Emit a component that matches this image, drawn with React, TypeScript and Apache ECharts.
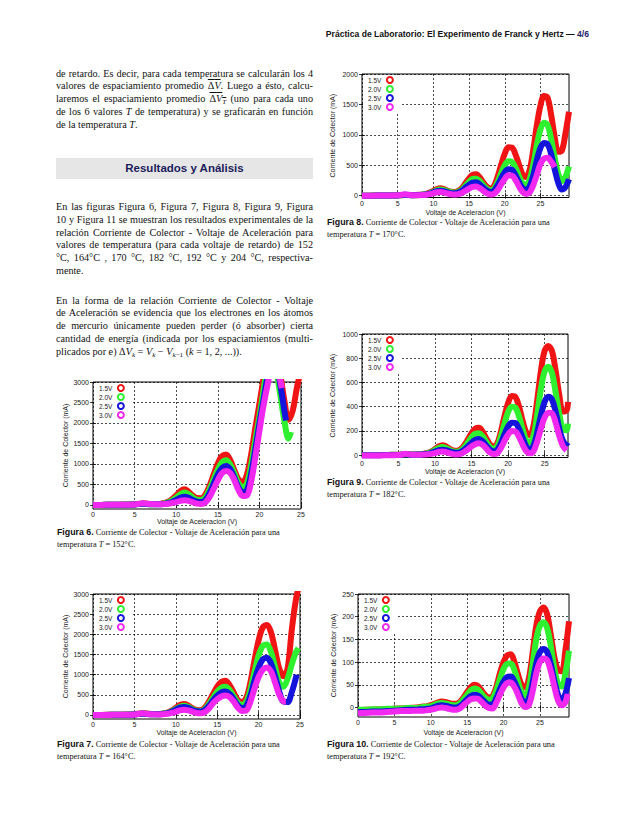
import React, { useEffect, useRef } from "react";
import * as echarts from "echarts";

// ---------------- data ----------------
const SERIES_NAMES = ["1.5V", "2.0V", "2.5V", "3.0V"];
const SERIES_COLORS = ["#f01414", "#2ef02e", "#1414dc", "#f028f0"];
const X_TICKS = [0, 5, 10, 15, 20, 25];
const Y_TICKS_3000 = [0, 500, 1000, 1500, 2000, 2500, 3000];
const Y_TICKS_2000 = [0, 500, 1000, 1500, 2000];
const Y_TICKS_1000 = [0, 200, 400, 600, 800, 1000];
const Y_TICKS_250 = [0, 50, 100, 150, 200, 250];

type Pt = [number, number];

// Figura 6, T = 152 °C
const F6_15V: Pt[] = [[0,0],[1,0],[2,5],[3,5],[4,10],[5,15],[6,35],[7,20],[8,25],[8.5,45],[9,75],[9.5,140],[10,230],[10.5,335],[11,380],[11.5,320],[12,225],[12.5,168],[13,165],[13.5,250],[14,460],[14.5,740],[15,1010],[15.5,1190],[16,1230],[16.5,1090],[17,840],[17.5,620],[18,565],[18.5,740],[19,1220],[19.5,1870],[20,2460],[20.5,3100],[21,3700],[21.5,3900],[22,3700],[22.5,3200],[23,2550],[23.5,2080],[24,2300],[24.5,2850],[25,3300]];
const F6_20V: Pt[] = [[0,0],[1,0],[2,4],[3,5],[4,8],[5,12],[6,30],[7,18],[8,20],[8.5,35],[9,60],[9.5,105],[10,180],[10.5,260],[11,300],[11.5,260],[12,180],[12.5,128],[13,122],[13.5,185],[14,370],[14.5,620],[15,860],[15.5,1040],[16,1090],[16.5,980],[17,760],[17.5,520],[18,425],[18.5,520],[19,960],[19.5,1560],[20,2150],[20.5,2800],[21,3400],[21.5,3700],[22,3300],[22.5,2700],[23,2050],[23.5,1620],[23.8,1780]];
const F6_25V: Pt[] = [[0,0],[1,0],[2,3],[3,4],[4,6],[5,10],[6,28],[7,15],[8,15],[8.5,25],[9,40],[9.5,70],[10,120],[10.5,175],[11,200],[11.5,175],[12,120],[12.5,80],[13,72],[13.5,120],[14,280],[14.5,510],[15,740],[15.5,900],[16,950],[16.5,870],[17,660],[17.5,420],[18,310],[18.5,360],[19,750],[19.5,1350],[20,1980],[20.5,2580],[21,3150],[21.5,3550],[22,3450],[22.5,2950],[23,2300],[23.2,2060]];
const F6_30V: Pt[] = [[0,0],[1,0],[2,2],[3,3],[4,5],[5,10],[6,40],[7,20],[8,15],[8.5,20],[9,28],[9.5,45],[10,70],[10.5,100],[11,115],[11.5,100],[12,65],[12.5,30],[13,22],[13.5,60],[14,190],[14.5,390],[15,600],[15.5,770],[16,830],[16.5,780],[17,600],[17.5,360],[18,215],[18.5,230],[19,560],[19.5,1150],[20,1800],[20.5,2430],[21,2950],[21.5,3400],[22,3450],[22.5,3050],[22.7,2850]];

// Figura 7, T = 164 °C
const F7_15V: Pt[] = [[0,0],[1,0],[2,5],[3,5],[4,10],[5,20],[6,45],[7,25],[8,25],[8.5,40],[9,60],[9.5,110],[10,180],[10.5,245],[11,270],[11.5,235],[12,170],[12.5,125],[13,120],[13.5,180],[14,330],[14.5,520],[15,700],[15.5,820],[16,850],[16.5,740],[17,550],[17.5,370],[18,320],[18.5,420],[19,800],[19.5,1350],[20,1850],[20.5,2170],[21,2230],[21.5,2050],[22,1600],[22.5,1150],[23,960],[23.5,1150],[24,2100],[24.5,2850],[25,3300]];
const F7_20V: Pt[] = [[0,0],[1,0],[2,4],[3,5],[4,8],[5,15],[6,38],[7,20],[8,20],[8.5,35],[9,50],[9.5,90],[10,150],[10.5,205],[11,228],[11.5,200],[12,145],[12.5,105],[13,100],[13.5,150],[14,275],[14.5,430],[15,575],[15.5,675],[16,700],[16.5,620],[17,460],[17.5,300],[18,245],[18.5,320],[19,620],[19.5,1060],[20,1470],[20.5,1710],[21,1750],[21.5,1560],[22,1180],[22.5,800],[23,700],[23.5,900],[24,1250],[24.5,1550],[24.8,1660]];
const F7_25V: Pt[] = [[0,0],[1,0],[2,3],[3,4],[4,6],[5,12],[6,32],[7,18],[8,18],[8.5,30],[9,45],[9.5,80],[10,130],[10.5,180],[11,200],[11.5,175],[12,125],[12.5,92],[13,88],[13.5,125],[14,230],[14.5,360],[15,480],[15.5,560],[16,580],[16.5,520],[17,390],[17.5,240],[18,175],[18.5,220],[19,470],[19.5,850],[20,1170],[20.5,1380],[21,1420],[21.5,1280],[22,950],[22.5,580],[23,330],[23.5,320],[24,560],[24.5,920],[24.6,1000]];
const F7_30V: Pt[] = [[0,0],[1,0],[2,2],[3,3],[4,5],[5,12],[6,40],[7,15],[8,12],[8.5,20],[9,30],[9.5,50],[10,80],[10.5,115],[11,130],[11.5,115],[12,80],[12.5,48],[13,40],[13.5,70],[14,160],[14.5,290],[15,390],[15.5,460],[16,485],[16.5,445],[17,330],[17.5,180],[18,100],[18.5,110],[19,320],[19.5,650],[20,940],[20.5,1120],[21,1180],[21.5,1080],[22,800],[22.5,500],[23,340],[23.3,330]];

// Figura 8, T = 170 °C
const F8_15V: Pt[] = [[0,0],[1,0],[2,2],[3,3],[4,4],[5,6],[6,12],[7,10],[8,14],[8.5,20],[9,30],[9.5,50],[10,80],[10.5,110],[11,122],[11.5,108],[12,82],[12.5,64],[13,60],[13.5,78],[14,125],[14.5,205],[15,285],[15.5,345],[16,352],[16.5,300],[17,215],[17.5,145],[18,115],[18.5,160],[19,310],[19.5,510],[20,690],[20.5,795],[21,790],[21.5,680],[22,510],[22.5,350],[23,305],[23.5,430],[24,760],[24.5,1160],[25,1480],[25.5,1640],[26,1610],[26.5,1330],[27,960],[27.5,720],[28,740],[28.5,1020],[29,1380]];
const F8_20V: Pt[] = [[0,0],[1,0],[2,2],[3,2],[4,3],[5,5],[6,12],[7,8],[8,12],[8.5,18],[9,25],[9.5,40],[10,65],[10.5,90],[11,100],[11.5,90],[12,70],[12.5,55],[13,50],[13.5,65],[14,102],[14.5,165],[15,230],[15.5,275],[16,280],[16.5,240],[17,172],[17.5,112],[18,90],[18.5,115],[19,225],[19.5,370],[20,500],[20.5,565],[21,555],[21.5,460],[22,320],[22.5,205],[23,175],[23.5,270],[24,510],[24.5,830],[25,1090],[25.5,1200],[26,1160],[26.5,930],[27,620],[27.5,360],[28,240],[28.5,310],[29,480]];
const F8_25V: Pt[] = [[0,0],[1,0],[2,1],[3,2],[4,3],[5,4],[6,14],[7,8],[8,10],[8.5,15],[9,20],[9.5,35],[10,55],[10.5,75],[11,82],[11.5,72],[12,52],[12.5,40],[13,38],[13.5,50],[14,82],[14.5,132],[15,182],[15.5,215],[16,220],[16.5,185],[17,130],[17.5,82],[18,62],[18.5,82],[19,170],[19.5,285],[20,385],[20.5,435],[21,425],[21.5,340],[22,220],[22.5,125],[23,92],[23.5,155],[24,335],[24.5,585],[25,785],[25.5,865],[26,845],[26.5,680],[27,430],[27.5,210],[28,100],[28.5,140],[29,270]];
const F8_30V: Pt[] = [[0,0],[1,0],[2,1],[3,2],[4,3],[5,5],[6,22],[7,8],[8,8],[8.5,12],[9,15],[9.5,25],[10,40],[10.5,55],[11,60],[11.5,50],[12,35],[12.5,22],[13,18],[13.5,25],[14,45],[14.5,80],[15,115],[15.5,145],[16,152],[16.5,125],[17,80],[17.5,38],[18,20],[18.5,32],[19,92],[19.5,185],[20,275],[20.5,335],[21,330],[21.5,260],[22,150],[22.5,62],[23,28],[23.5,55],[24,175],[24.5,345],[25,520],[25.5,610],[26,625],[26.5,560],[27,470]];

// Figura 9, T = 182 °C
const F9_15V: Pt[] = [[0,0],[1,0],[2,1],[3,1],[4,2],[5,3],[6,8],[7,5],[8,8],[8.5,12],[9,18],[9.5,30],[10,50],[10.5,72],[11,82],[11.5,72],[12,52],[12.5,38],[13,35],[13.5,48],[14,80],[14.5,130],[15,180],[15.5,218],[16,225],[16.5,195],[17,140],[17.5,90],[18,72],[18.5,95],[19,190],[19.5,320],[20,430],[20.5,488],[21,480],[21.5,400],[22,280],[22.5,185],[23,165],[23.5,250],[24,460],[24.5,700],[25,860],[25.5,900],[26,860],[26.5,700],[27,500],[27.5,360],[28,370],[28.2,440]];
const F9_20V: Pt[] = [[0,0],[1,0],[2,1],[3,1],[4,2],[5,2],[6,7],[7,4],[8,6],[8.5,10],[9,15],[9.5,25],[10,42],[10.5,58],[11,66],[11.5,58],[12,42],[12.5,30],[13,28],[13.5,38],[14,65],[14.5,105],[15,148],[15.5,176],[16,180],[16.5,155],[17,110],[17.5,68],[18,52],[18.5,72],[19,150],[19.5,260],[20,355],[20.5,400],[21,392],[21.5,320],[22,210],[22.5,120],[23,102],[23.5,165],[24,340],[24.5,550],[25,690],[25.5,730],[26,680],[26.5,520],[27,340],[27.5,215],[28,205],[28.2,260]];
const F9_25V: Pt[] = [[0,-2],[1,-2],[2,-1],[3,0],[4,0],[5,1],[6,6],[7,3],[8,4],[8.5,8],[9,10],[9.5,18],[10,28],[10.5,40],[11,45],[11.5,40],[12,30],[12.5,22],[13,20],[13.5,26],[14,45],[14.5,72],[15,102],[15.5,125],[16,132],[16.5,115],[17,80],[17.5,45],[18,30],[18.5,42],[19,95],[19.5,170],[20,235],[20.5,268],[21,265],[21.5,215],[22,140],[22.5,70],[23,46],[23.5,80],[24,190],[24.5,330],[25,440],[25.5,482],[26,460],[26.5,360],[27,220],[27.5,120],[28,95],[28.2,105]];
const F9_30V: Pt[] = [[0,-4],[1,-4],[2,-3],[3,-2],[4,-1],[5,0],[6,10],[7,2],[8,2],[8.5,5],[9,6],[9.5,10],[10,16],[10.5,26],[11,30],[11.5,25],[12,15],[12.5,7],[13,5],[13.5,10],[14,25],[14.5,48],[15,72],[15.5,90],[16,97],[16.5,85],[17,55],[17.5,22],[18,9],[18.5,15],[19,55],[19.5,115],[20,170],[20.5,198],[21,195],[21.5,150],[22,85],[22.5,32],[23,15],[23.5,35],[24,115],[24.5,220],[25,310],[25.5,350],[26,345],[26.5,270],[27,160],[27.5,75],[28,40]];

// Figura 10, T = 192 °C
const F10_15V: Pt[] = [[0,-6],[1,-5],[2,-5],[3,-4],[4,-4],[5,-3],[6,-2],[7,-1],[8,0],[8.5,1],[9,2],[9.5,3],[10,5],[10.5,8],[11,11],[11.5,13],[12,12],[12.5,10],[13,8],[13.5,8],[14,12],[14.5,22],[15,34],[15.5,45],[16,50],[16.5,47],[17,37],[17.5,27],[18,22],[18.5,25],[19,45],[19.5,75],[20,100],[20.5,115],[21,117],[21.5,100],[22,72],[22.5,50],[23,44],[23.5,65],[24,120],[24.5,180],[25,212],[25.5,220],[26,205],[26.5,160],[27,110],[27.5,82],[28,80],[28.5,125],[29,190]];
const F10_20V: Pt[] = [[0,-5],[1,-5],[2,-4],[3,-4],[4,-3],[5,-3],[6,-2],[7,-1],[8,-1],[8.5,0],[9,1],[9.5,2],[10,3],[10.5,6],[11,9],[11.5,10],[12,9],[12.5,7],[13,5],[13.5,5],[14,9],[14.5,18],[15,28],[15.5,38],[16,42],[16.5,39],[17,30],[17.5,21],[18,17],[18.5,20],[19,37],[19.5,62],[20,85],[20.5,96],[21,97],[21.5,82],[22,56],[22.5,33],[23,26],[23.5,45],[24,95],[24.5,150],[25,180],[25.5,188],[26,175],[26.5,135],[27,85],[27.5,52],[28,46],[28.5,75],[29,125]];
const F10_25V: Pt[] = [[0,-10],[1,-10],[2,-9],[3,-9],[4,-8],[5,-7],[6,-6],[7,-5],[8,-5],[8.5,-4],[9,-4],[9.5,-3],[10,-2],[10.5,1],[11,4],[11.5,5],[12,4],[12.5,2],[13,0],[13.5,0],[14,3],[14.5,10],[15,18],[15.5,25],[16,28],[16.5,26],[17,19],[17.5,11],[18,6],[18.5,7],[19,20],[19.5,40],[20,57],[20.5,67],[21,68],[21.5,57],[22,38],[22.5,18],[23,11],[23.5,20],[24,55],[24.5,97],[25,122],[25.5,129],[26,122],[26.5,95],[27,58],[27.5,28],[28,16],[28.5,30],[29,65]];
const F10_30V: Pt[] = [[0,-13],[1,-12],[2,-11],[3,-11],[4,-10],[5,-9],[6,-8],[7,-8],[8,-7],[8.5,-7],[9,-7],[9.5,-6],[10,-5],[10.5,-3],[11,-1],[11.5,0],[12,-1],[12.5,-3],[13,-5],[13.5,-5],[14,-2],[14.5,5],[15,12],[15.5,18],[16,20],[16.5,19],[17,12],[17.5,4],[18,-1],[18.5,-2],[19,10],[19.5,28],[20,44],[20.5,54],[21,55],[21.5,45],[22,28],[22.5,9],[23,1],[23.5,6],[24,35],[24.5,75],[25,100],[25.5,108],[26,104],[26.5,80],[27,45],[27.5,15],[28,5],[28.5,12],[28.8,30]];

// ---------------- layout ----------------
const SERIF = '"Liberation Serif", "DejaVu Serif", serif';
const SANS = '"Liberation Sans", Arial, sans-serif';

type Fig = {
  left: number; top: number; width: number; height: number;
  xMax: number; yMin: number; yMax: number; yTicks: number[];
  yGap: number; xGap: number; series: Pt[][];
};

const FIGS: Fig[] = [
  { left: 93, top: 382, width: 208, height: 127, xMax: 25, yMin: -100, yMax: 3000, yTicks: Y_TICKS_3000, yGap: 24, xGap: 9, series: [F6_15V, F6_20V, F6_25V, F6_30V] },
  { left: 93, top: 594, width: 207, height: 125, xMax: 25, yMin: -100, yMax: 3000, yTicks: Y_TICKS_3000, yGap: 24, xGap: 10, series: [F7_15V, F7_20V, F7_25V, F7_30V] },
  { left: 362, top: 74, width: 207, height: 123.5, xMax: 29, yMin: -30, yMax: 2000, yTicks: Y_TICKS_2000, yGap: 26, xGap: 11, series: [F8_15V, F8_20V, F8_25V, F8_30V] },
  { left: 362, top: 334, width: 206, height: 123.5, xMax: 28.2, yMin: -20, yMax: 1000, yTicks: Y_TICKS_1000, yGap: 26, xGap: 10.5, series: [F9_15V, F9_20V, F9_25V, F9_30V] },
  { left: 358, top: 594, width: 211, height: 123, xMax: 29, yMin: -21, yMax: 250, yTicks: Y_TICKS_250, yGap: 21.5, xGap: 12, series: [F10_15V, F10_20V, F10_25V, F10_30V] },
];

const plain = (v: number) => String(v);

function buildOption() {
  const grid: any[] = [];
  const xAxis: any[] = [];
  const yAxis: any[] = [];
  const legend: any[] = [];
  const series: any[] = [];
  const tickStyle = { color: "#000", width: 0.8 };
  const labelStyle = { fontSize: 7, color: "#222", fontFamily: SANS };
  const gridLine = { show: true, lineStyle: { color: "#000", width: 0.7, type: [2, 2] } };
  FIGS.forEach((f, i) => {
    grid.push({
      left: f.left, top: f.top, width: f.width, height: f.height,
      show: true, borderColor: "#000", borderWidth: 1, backgroundColor: "transparent",
      containLabel: false, outerBoundsMode: "none",
    });
    xAxis.push({
      gridIndex: i, type: "value", min: 0, max: f.xMax, position: "bottom",
      axisLine: { show: false },
      axisTick: { show: true, inside: true, length: 3, lineStyle: tickStyle, customValues: X_TICKS },
      axisLabel: { ...labelStyle, margin: 2, customValues: X_TICKS, formatter: plain },
      splitLine: gridLine,
      name: "Voltaje de Aceleracion (V)", nameLocation: "middle", nameGap: f.xGap,
      nameMoveOverlap: false,
      nameTextStyle: { fontSize: 7, color: "#222", fontFamily: SANS },
    });
    xAxis.push({
      gridIndex: i, type: "value", min: 0, max: f.xMax, position: "top",
      axisLine: { show: false },
      axisTick: { show: true, inside: true, length: 3, lineStyle: tickStyle, customValues: X_TICKS },
      axisLabel: { show: false }, splitLine: { show: false },
    });
    yAxis.push({
      gridIndex: i, type: "value", min: f.yMin, max: f.yMax, position: "left",
      axisLine: { show: false },
      axisTick: { show: true, inside: true, length: 3, lineStyle: tickStyle, customValues: f.yTicks },
      axisLabel: { ...labelStyle, margin: 4, customValues: f.yTicks, formatter: plain },
      splitLine: gridLine,
      name: "Corriente de Colector (mA)", nameLocation: "middle", nameGap: f.yGap,
      nameMoveOverlap: false,
      nameTextStyle: { fontSize: 7, color: "#222", fontFamily: SANS },
    });
    yAxis.push({
      gridIndex: i, type: "value", min: f.yMin, max: f.yMax, position: "right",
      axisLine: { show: false },
      axisTick: { show: true, inside: true, length: 3, lineStyle: tickStyle, customValues: f.yTicks },
      axisLabel: { show: false }, splitLine: { show: false },
    });
    legend.push({
      show: true, orient: "vertical", left: f.left + 1, top: f.top + 1,
      align: "right", icon: "emptyCircle", itemWidth: 7, itemHeight: 6, itemGap: 1,
      padding: [1, 7, 2, 5], backgroundColor: "#fff", selectedMode: false,
      textStyle: { fontSize: 6.5, color: "#222", fontFamily: SANS },
      itemStyle: { borderWidth: 1.6 },
      data: SERIES_NAMES,
    });
    f.series.forEach((data, j) => {
      series.push({
        type: "line", name: SERIES_NAMES[j], data,
        xAxisIndex: 2 * i, yAxisIndex: 2 * i,
        smooth: 0.35, showSymbol: false, symbol: "emptyCircle", symbolSize: 6,
        lineStyle: { width: 6, color: SERIES_COLORS[j] },
        itemStyle: { color: SERIES_COLORS[j] },
        clip: true, silent: true,
      });
    });
  });
  return {
    animation: false,
    backgroundColor: "transparent",
    textStyle: { fontFamily: SANS },
    grid, xAxis, yAxis, legend, series,
  };
}

function Chart() {
  const ref = useRef<HTMLDivElement>(null);
  useEffect(() => {
    if (!ref.current) return;
    const chart = echarts.init(ref.current, null, { renderer: "svg" });
    chart.setOption(buildOption() as any);
    return () => chart.dispose();
  }, []);
  return <div ref={ref} style={{ position: "absolute", left: 0, top: 0, width: 638, height: 826 }} />;
}

// ---------------- text helpers ----------------
const LINE_H = 12.8;

function TL({ x, y, w, last, children }: { x: number; y: number; w: number; last?: boolean; children: any }) {
  return (
    <div
      style={{
        position: "absolute", left: x, top: y - 7, width: w, height: 14, lineHeight: "14px",
        fontFamily: SERIF, fontSize: 10.2, color: "#111",
        textAlign: last ? "left" : "justify", textAlignLast: last ? "left" : "justify",
      } as any}
    >
      {children}
    </div>
  );
}

const ov: any = { textDecoration: "overline" };
const sub: any = { fontSize: "70%", verticalAlign: "-0.25em", lineHeight: 0 };

function Caption({ x, y, n, t }: { x: number; y: number; n: string; t: string }) {
  return (
    <div style={{ position: "absolute", left: x, top: y, fontFamily: SERIF, fontSize: 8.3, lineHeight: "11.5px", color: "#111", whiteSpace: "nowrap" }}>
      <span style={{ fontFamily: SANS, fontWeight: 700, fontSize: 8.8 }}>{"Figura " + n + "."}</span>{" "}
      Corriente de Colector - Voltaje de Aceleración para una
      <br />
      temperatura <i>T</i> = {t}°C.
    </div>
  );
}

export default function App() {
  const L = 56;
  const W = 257;
  const p1 = 73.5;
  const p2 = 207;
  const p3 = 300.5;
  return (
    <div style={{ position: "absolute", left: 0, top: 0, width: 638, height: 826, background: "#fff", overflow: "hidden" }}>
      <Chart />
      <div style={{ position: "absolute", left: 244, top: 29, width: 345, textAlign: "right", fontFamily: SANS, fontWeight: 700, fontSize: 8.6, color: "#111", whiteSpace: "nowrap" }}>
        Práctica de Laboratorio: El Experimento de Franck y Hertz — <span style={{ color: "#1c1c6e" }}>4/6</span>
      </div>

      <TL x={L} y={p1} w={W}>de retardo. Es decir, para cada temperatura se calcularán los 4</TL>
      <TL x={L} y={p1 + LINE_H} w={W}>valores de espaciamiento promedio <span style={ov}>Δ<i>V</i></span>. Luego a ésto, calcu-</TL>
      <TL x={L} y={p1 + 2 * LINE_H} w={W}>laremos el espaciamiento promedio <span style={ov}>Δ<i>V</i><span style={sub}><i>T</i></span></span> (uno para cada uno</TL>
      <TL x={L} y={p1 + 3 * LINE_H} w={W}>de los 6 valores <i>T</i> de temperatura) y se graficarán en función</TL>
      <TL x={L} y={p1 + 4 * LINE_H} w={W} last>de la temperatura <i>T</i>.</TL>

      <div style={{ position: "absolute", left: L, top: 158, width: W, height: 21, background: "#e6e6e6", textAlign: "center", lineHeight: "21px", fontFamily: SANS, fontWeight: 700, fontSize: 11.5, color: "#1c1c5c" }}>
        Resultados y Análisis
      </div>

      <TL x={L} y={p2} w={W}>En las figuras Figura 6, Figura 7, Figura 8, Figura 9, Figura</TL>
      <TL x={L} y={p2 + LINE_H} w={W}>10 y Figura 11 se muestran los resultados experimentales de la</TL>
      <TL x={L} y={p2 + 2 * LINE_H} w={W}>relación Corriente de Colector - Voltaje de Aceleración para</TL>
      <TL x={L} y={p2 + 3 * LINE_H} w={W}>valores de temperatura (para cada voltaje de retardo) de 152</TL>
      <TL x={L} y={p2 + 4 * LINE_H} w={W}>°C, 164°C , 170 °C, 182 °C, 192 °C y 204 °C, respectiva-</TL>
      <TL x={L} y={p2 + 5 * LINE_H} w={W} last>mente.</TL>

      <TL x={L} y={p3} w={W}>En la forma de la relación Corriente de Colector - Voltaje</TL>
      <TL x={L} y={p3 + LINE_H} w={W}>de Aceleración se evidencia que los electrones en los átomos</TL>
      <TL x={L} y={p3 + 2 * LINE_H} w={W}>de mercurio únicamente pueden perder (ó absorber) cierta</TL>
      <TL x={L} y={p3 + 3 * LINE_H} w={W}>cantidad de energía (indicada por los espaciamientos (multi-</TL>
      <TL x={L} y={p3 + 4 * LINE_H} w={W} last>
        plicados por e) Δ<i>V</i><span style={sub}><i>k</i></span> = <i>V</i><span style={sub}><i>k</i></span> − <i>V</i><span style={sub}><i>k</i>−1</span> (<i>k</i> = 1, 2, ...)).
      </TL>

      <Caption x={57} y={527} n="6" t="152" />
      <Caption x={57} y={739} n="7" t="164" />
      <Caption x={327} y={217} n="8" t="170" />
      <Caption x={327} y={477} n="9" t="182" />
      <Caption x={327} y={739} n="10" t="192" />
    </div>
  );
}
